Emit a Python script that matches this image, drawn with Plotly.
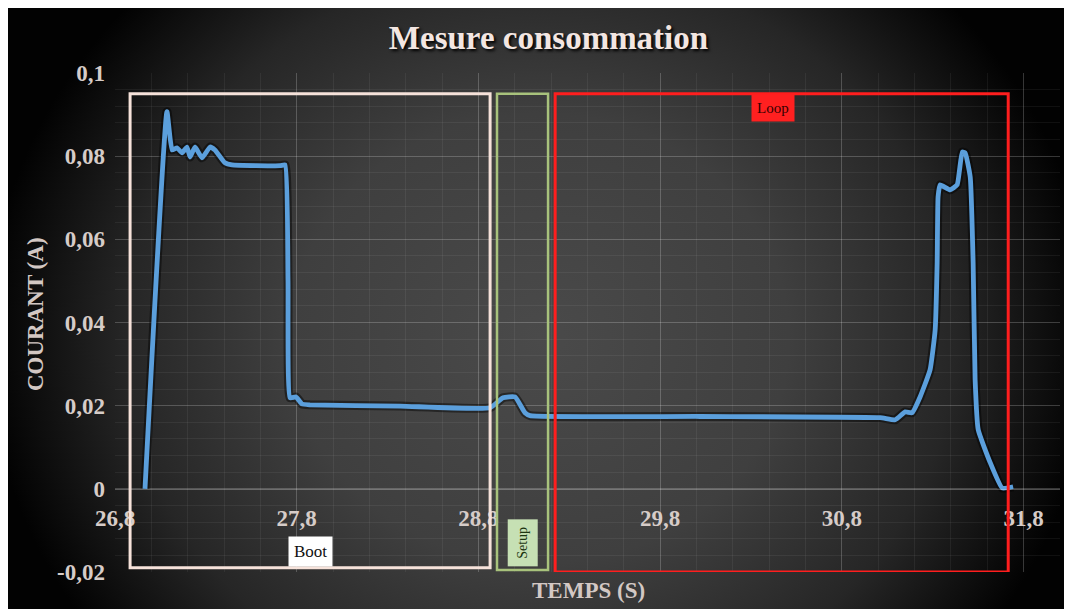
import base64
import plotly.graph_objects as go

time_s = [26.965, 27.086, 27.114, 27.141, 27.169, 27.196, 27.213, 27.240, 27.279, 27.323,
          27.350, 27.405, 27.444, 27.708, 27.736, 27.752, 27.763, 27.796, 27.829, 27.873,
          28.369, 28.864, 28.935, 29.001, 29.056, 29.084, 30.020, 31.010, 31.093, 31.148,
          31.186, 31.230, 31.285, 31.313, 31.324, 31.329, 31.340, 31.395, 31.434, 31.462,
          31.478, 31.506, 31.522, 31.533, 31.550, 31.616, 31.682, 31.742]
current_a = [0.0, 0.0907, 0.0815, 0.0820, 0.0808, 0.0822, 0.0798, 0.0822, 0.0796, 0.0822,
             0.0815, 0.0784, 0.0779, 0.0777, 0.0779, 0.0500, 0.0219, 0.0221, 0.0204, 0.0202,
             0.0199, 0.0195, 0.0219, 0.0221, 0.0183, 0.0176, 0.0174, 0.0171, 0.0166, 0.0185,
             0.0183, 0.0221, 0.0286, 0.0382, 0.0544, 0.0702, 0.0731, 0.0719, 0.0731, 0.0810,
             0.0808, 0.0750, 0.0544, 0.0262, 0.0142, 0.0063, 0.0002, 0.0005]

# program phases (start / end in seconds)
phase_names = ["Boot", "Setup", "Loop"]
phase_start = [26.883, 28.902, 29.222]
phase_end = [28.864, 29.183, 31.715]

x_tick_vals = [26.8, 27.8, 28.8, 29.8, 30.8, 31.8]
x_tick_text = ["26,8", "27,8", "28,8", "29,8", "30,8", "31,8"]
y_tick_vals = [-0.02, 0, 0.02, 0.04, 0.06, 0.08, 0.1]
y_tick_text = ["-0,02", "0", "0,02", "0,04", "0,06", "0,08", "0,1"]

x_range = [26.8, 32.0]
y_range = [-0.02, 0.1]

W, H = 1064, 601
L, R, T, B = 107, 12, 65, 37
pw, ph = W - L - R, H - T - B

SERIF = "Liberation Serif, Times New Roman, serif"

# dark radial background like the excel theme
svg = f"""<svg xmlns='http://www.w3.org/2000/svg' width='{W}' height='{H}'>
<defs><radialGradient id='g' cx='0.5' cy='0.55' r='0.52'
 gradientTransform='translate(0.5,0.55) scale(1,1.6) translate(-0.5,-0.55)'>
<stop offset='0' stop-color='#4a4a4a'/><stop offset='0.45' stop-color='#3f3f3f'/>
<stop offset='0.75' stop-color='#262626'/><stop offset='1' stop-color='#020202'/>
</radialGradient></defs>
<rect width='100%' height='100%' fill='url(#g)'/></svg>"""
bg_uri = "data:image/svg+xml;base64," + base64.b64encode(svg.encode()).decode()

fig = go.Figure()
# soft shadow under the line
fig.add_trace(go.Scatter(x=time_s, y=current_a, mode="lines",
                         line=dict(color="rgba(0,0,0,0.45)", width=9, shape="spline", smoothing=0.4),
                         hoverinfo="skip", showlegend=False))
fig.add_trace(go.Scatter(x=time_s, y=current_a, mode="lines",
                         line=dict(color="#5b9fdc", width=4.8, shape="spline", smoothing=0.4),
                         showlegend=False))

box_colors = ["#f6e2da", "#a8c27c", "#ff1e1e"]
box_bottom = [-0.0190, -0.0195, -0.0200]
for name, x0, x1, col, yb in zip(phase_names, phase_start, phase_end, box_colors, box_bottom):
    fig.add_shape(type="rect", xref="x", yref="y", x0=x0, x1=x1, y0=yb, y1=0.0950,
                  line=dict(color=col, width=3 if name != "Setup" else 2.5))

# phase labels
fig.add_annotation(x=(phase_start[0] + phase_end[0]) / 2, y=-0.0150, text=phase_names[0],
                   showarrow=False, bgcolor="#ffffff", borderpad=5,
                   font=dict(family=SERIF, size=17, color="#111"))
fig.add_annotation(x=(phase_start[1] + phase_end[1]) / 2, y=-0.0131, text=phase_names[1],
                   showarrow=False, bgcolor="#c6e0b4", borderpad=7, textangle=-90,
                   font=dict(family=SERIF, size=14, color="#1d3512"))
fig.add_annotation(x=30.421, y=0.0916, text=phase_names[2],
                   showarrow=False, bgcolor="#ff2020", borderpad=5,
                   font=dict(family=SERIF, size=15, color="#330000"))

# axis titles
axis_title_font = dict(family=SERIF, size=23, color="#d3c8c4", weight="bold")
fig.add_annotation(xref="paper", yref="paper", x=(27 - L) / pw, y=(H - B - 306) / ph,
                   xanchor="center", yanchor="middle",
                   text="COURANT (A)", textangle=-90, showarrow=False, font=axis_title_font)
fig.add_annotation(xref="paper", yref="paper", x=(580 - L) / pw, y=(H - B - 582) / ph,
                   xanchor="center", yanchor="middle",
                   text="TEMPS (S)", showarrow=False, font=axis_title_font)

grid_major = "rgba(255,255,255,0.16)"
grid_minor = "rgba(255,255,255,0.06)"
tick_font = dict(family=SERIF, size=23, color="#d6ccc8", weight="bold")

fig.update_layout(
    width=W, height=H,
    margin=dict(l=L, r=R, t=T, b=B),
    paper_bgcolor="#ffffff",
    plot_bgcolor="rgba(0,0,0,0)",
    title=dict(text="Mesure consommation", x=0.508, xanchor="center",
               y=1 - 29 / H, yanchor="middle",
               font=dict(family=SERIF, size=33, color="#f3e6e2", weight="bold",
                         shadow="2px 2px 3px #000")),
    images=[dict(source=bg_uri, xref="paper", yref="paper", x=-L / pw, y=1 + T / ph,
                 sizex=W / pw, sizey=H / ph, sizing="stretch", layer="below")],
    xaxis=dict(range=x_range, tickmode="array", tickvals=x_tick_vals, ticktext=x_tick_text,
               anchor="free", position=(0 - y_range[0]) / (y_range[1] - y_range[0]),
               showline=True, linecolor="rgba(255,255,255,0.28)", linewidth=1,
               gridcolor=grid_major, zeroline=False, ticks="", ticklabelstandoff=9,
               tickfont=tick_font,
               minor=dict(tickmode="linear", tick0=26.8, dtick=0.2, showgrid=True,
                          gridcolor=grid_minor)),
    yaxis=dict(range=y_range, tickmode="array", tickvals=y_tick_vals, ticktext=y_tick_text,
               gridcolor=grid_major, zeroline=False, showline=False, ticks="",
               ticklabelstandoff=9, tickfont=tick_font,
               minor=dict(tickmode="linear", tick0=-0.02, dtick=0.004, showgrid=True,
                          gridcolor=grid_minor)),
)

fig.write_html("out.html")
